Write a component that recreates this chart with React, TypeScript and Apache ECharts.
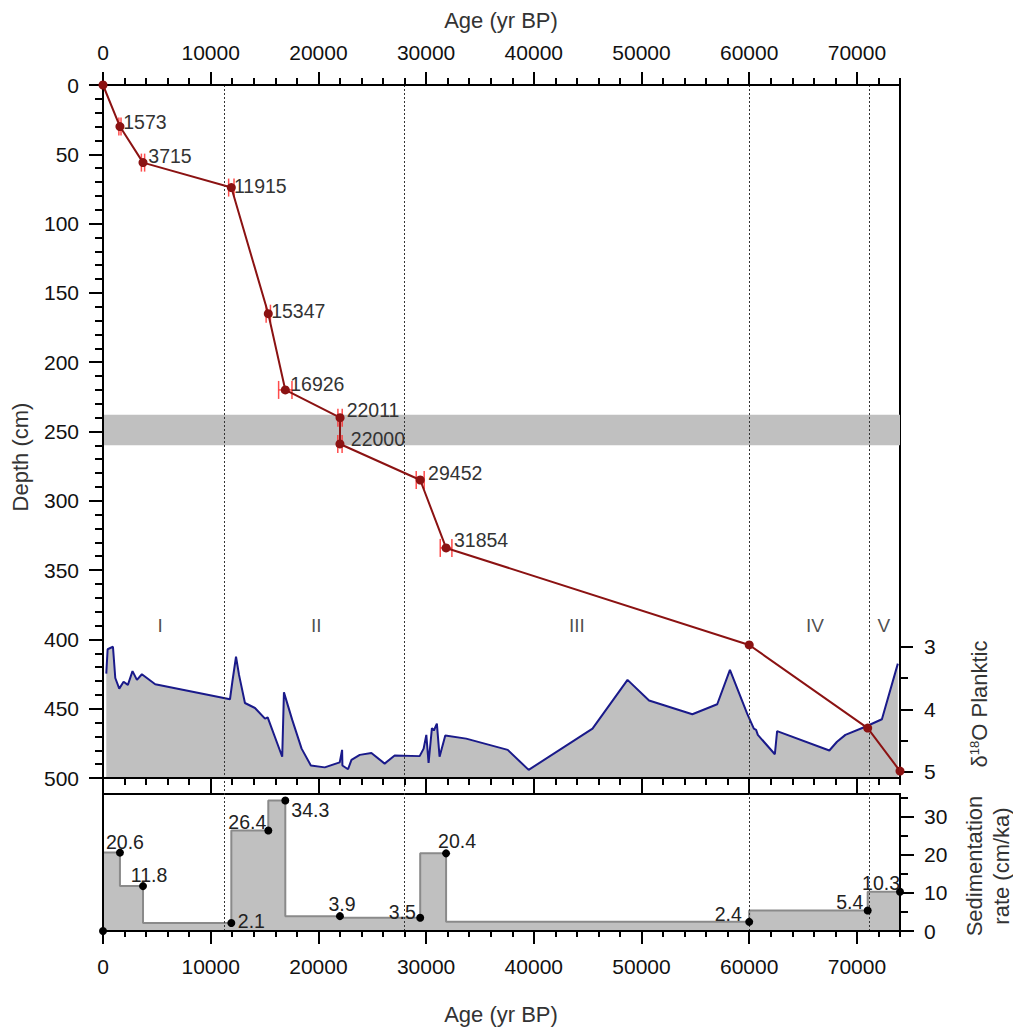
import React, { useEffect, useRef } from 'react';
import * as echarts from 'echarts';

const FONT = '"Liberation Sans", Arial, Helvetica, sans-serif';

// ---- Age-depth model (dated levels) ----
const dateAges = [0, 1573, 3715, 11915, 15347, 16926, 22011, 22000, 29452, 31854, 60000, 71000, 74000];
const dateDepths = [0, 30, 56, 74, 165, 220, 240, 259, 285, 334, 404, 464, 495];
const dateLabels = ['', '1573', '3715', '11915', '15347', '16926', '22011', '22000', '29452', '31854', '', '', ''];
const dateErrors = [0, 100, 150, 250, 200, 620, 200, 200, 370, 540, 0, 0, 0];

// ---- Planktic d18O record ----
const d18oAges = [305, 430, 925, 1140, 1510, 1910, 2310, 2740, 3150, 3610, 4850, 11790, 12010, 12350, 12630, 13180, 14110, 15040, 15290, 16640, 16800, 17570, 18440, 19300, 20590, 21980, 22200, 22230, 22750, 23070, 23840, 24920, 26150, 27080, 29400, 29770, 30020, 30230, 30540, 30720, 31000, 31250, 31780, 33720, 37580, 39520, 45450, 48700, 50700, 54720, 57030, 58210, 59810, 60430, 60640, 60800, 62380, 62590, 67440, 68150, 68930, 70780, 72320, 73800];
const d18oValues = [3.43, 3.04, 3.0, 3.5, 3.67, 3.56, 3.61, 3.39, 3.53, 3.44, 3.6, 3.84, 3.56, 3.16, 3.45, 3.9, 3.98, 4.15, 4.13, 4.76, 3.73, 4.17, 4.63, 4.9, 4.93, 4.85, 4.65, 4.9, 4.96, 4.81, 4.73, 4.7, 4.87, 4.74, 4.75, 4.63, 4.41, 4.86, 4.3, 4.34, 4.23, 4.76, 4.42, 4.47, 4.65, 4.97, 4.31, 3.53, 3.86, 4.08, 3.92, 3.37, 4.07, 4.31, 4.33, 4.41, 4.72, 4.35, 4.66, 4.52, 4.41, 4.28, 4.16, 3.27];

// ---- Sedimentation rate ----
const sedAges = [0, 1573, 3715, 11915, 15347, 16926, 22000, 29452, 31854, 60000, 71000, 74000];
const sedRates = [0, 20.6, 11.8, 2.1, 26.4, 34.3, 3.9, 3.5, 20.4, 2.4, 5.4, 10.3];

// ---- Zones ----
const zoneBounds = [11300, 28000, 60000, 71100];
const zoneNames = ['I', 'II', 'III', 'IV', 'V'];
const zoneLabelAges = [5300, 19800, 44000, 66100, 72500];
const zoneLabelDepth = 390;
const bandDepths = [238, 260];

// ---- Axes ----
const AGE_MAX = 74000;
const ageTicks = [0, 10000, 20000, 30000, 40000, 50000, 60000, 70000];
const depthMax = 500;
const d18oTicks = [3, 4, 5];
const d18oMinorTicks = [3.5, 4.5];
const sedTicks = [0, 10, 20, 30];
const sedMinorTicks = [5, 15, 25, 35];

// label offsets (style only)
const dateLabelOffsets = [[0, 0], [25, -5], [27, -7], [29, -2], [30, -3], [32, -6], [33, -8], [38, -5], [35, -7], [35, -8], [0, 0], [0, 0], [0, 0]];
const sedLabelOffsets = [[0, 0], [5, -11], [6, -11], [20, -2], [-21, -9], [25, 10], [2, -12], [-18, -6], [11, -12], [-21, -8], [-18, -8], [-19, -9]];

const BLACK = '#000';
const lineSt = { color: BLACK, width: 2 };
const plain = (v: number) => String(v);
const tickLabel = { color: '#111', fontSize: 21, fontFamily: FONT, formatter: plain };

function xAxisDef(grid: number, position: string, opts: any) {
  return {
    type: 'value', gridIndex: grid, position, min: 0, max: AGE_MAX, z: 5,
    splitLine: { show: false },
    axisLine: { show: opts.line ?? false, onZero: false, lineStyle: lineSt },
    axisTick: opts.major
      ? { show: true, inside: false, length: opts.len, customValues: ageTicks, lineStyle: lineSt }
      : { show: true, inside: false, length: opts.len, lineStyle: lineSt },
    axisLabel: opts.labels
      ? { show: true, customValues: ageTicks, margin: opts.margin, ...tickLabel }
      : { show: false },
    interval: opts.major ? 10000 : 2000,
  };
}

function buildOption() {
  return {
    animation: false,
    backgroundColor: '#fff',
    textStyle: { fontFamily: FONT },
    grid: [
      { left: 103, top: 85, width: 797, height: 693, show: true, borderColor: BLACK, borderWidth: 2, backgroundColor: 'transparent' },
      { left: 103, top: 794, width: 797, height: 137, show: true, borderColor: BLACK, borderWidth: 2, backgroundColor: 'transparent' },
      { left: 103, top: 640.5, width: 797, height: 137.5 },
      { left: 103, top: 85, width: 797, height: 846 },
    ],
    xAxis: [
      xAxisDef(0, 'top', { major: true, line: true, len: 13, labels: true, margin: 22 }),
      xAxisDef(0, 'top', { major: false, len: 7 }),
      xAxisDef(0, 'bottom', { major: true, line: true, len: 16 }),
      xAxisDef(0, 'bottom', { major: false, len: 7 }),
      xAxisDef(1, 'bottom', { major: true, line: true, len: 13, labels: true, margin: 25 }),
      xAxisDef(1, 'bottom', { major: false, len: 6 }),
      { type: 'value', gridIndex: 2, min: 0, max: AGE_MAX, show: false },
      { type: 'value', gridIndex: 3, min: 0, max: AGE_MAX, show: false },
    ],
    yAxis: [
      {
        type: 'value', gridIndex: 0, position: 'left', inverse: true, min: 0, max: depthMax, interval: 50, z: 5,
        splitLine: { show: false },
        axisLine: { show: true, onZero: false, lineStyle: lineSt },
        axisTick: { show: true, length: 14, lineStyle: lineSt },
        minorTick: { show: true, splitNumber: 5, length: 8, lineStyle: lineSt },
        minorSplitLine: { show: false },
        axisLabel: { show: true, margin: 24, ...tickLabel },
      },
      {
        type: 'value', gridIndex: 1, position: 'left', min: 0, max: 36, z: 5,
        splitLine: { show: false },
        axisLine: { show: true, onZero: false, lineStyle: lineSt },
        axisTick: { show: false }, axisLabel: { show: false },
      },
      {
        type: 'value', gridIndex: 1, position: 'right', min: 0, max: 36, interval: 10, z: 5,
        splitLine: { show: false },
        axisLine: { show: true, onZero: false, lineStyle: lineSt },
        axisTick: { show: true, length: 14, customValues: sedTicks, lineStyle: lineSt },
        axisLabel: { show: true, margin: 24, customValues: sedTicks, ...tickLabel },
      },
      {
        type: 'value', gridIndex: 1, position: 'right', min: 0, max: 36, interval: 5, z: 5,
        splitLine: { show: false },
        axisLine: { show: false, onZero: false },
        axisTick: { show: true, length: 8, customValues: sedMinorTicks, lineStyle: lineSt },
        axisLabel: { show: false },
      },
      {
        type: 'value', gridIndex: 2, position: 'right', inverse: true, min: 2.9, max: 5.1, interval: 1, z: 5,
        splitLine: { show: false },
        axisLine: { show: true, onZero: false, lineStyle: lineSt },
        axisTick: { show: true, length: 13, customValues: d18oTicks, lineStyle: lineSt },
        axisLabel: { show: true, margin: 24, customValues: d18oTicks, ...tickLabel },
      },
      {
        type: 'value', gridIndex: 2, position: 'right', inverse: true, min: 2.9, max: 5.1, interval: 0.5, z: 5,
        splitLine: { show: false },
        axisLine: { show: false, onZero: false },
        axisTick: { show: true, length: 8, customValues: d18oMinorTicks, lineStyle: lineSt },
        axisLabel: { show: false },
      },
      { type: 'value', gridIndex: 3, min: 0, max: 1, show: false },
    ],
    graphic: [
      { type: 'text', x: 501, y: 20, style: { text: 'Age (yr BP)', fontSize: 22, fontFamily: FONT, fill: '#333', align: 'center', verticalAlign: 'middle' } },
      { type: 'text', x: 501, y: 1014, style: { text: 'Age (yr BP)', fontSize: 22, fontFamily: FONT, fill: '#333', align: 'center', verticalAlign: 'middle' } },
      { type: 'text', x: 20, y: 457, rotation: Math.PI / 2, style: { text: 'Depth (cm)', fontSize: 22, fontFamily: FONT, fill: '#333', align: 'center', verticalAlign: 'middle' } },
      {
        type: 'text', x: 979, y: 704, rotation: Math.PI / 2,
        style: {
          text: '{a|δ}{b|18}{a|O Planktic}', fontFamily: FONT, fill: '#333', align: 'center', verticalAlign: 'middle',
          rich: { a: { fontSize: 22, fontFamily: FONT, fill: '#333' }, b: { fontSize: 13, fontFamily: FONT, fill: '#333', padding: [0, 0, 9, 0] } },
        },
      },
      { type: 'text', x: 988, y: 866, rotation: Math.PI / 2, style: { text: 'Sedimentation\nrate (cm/ka)', fontSize: 22, lineHeight: 27, fontFamily: FONT, fill: '#333', align: 'center', verticalAlign: 'middle' } },
    ],
    series: [
      // zone boundary dotted lines spanning both panels
      {
        type: 'line', xAxisIndex: 7, yAxisIndex: 6, data: [], z: 4, silent: true,
        markLine: {
          silent: true, symbol: ['none', 'none'], label: { show: false },
          lineStyle: { type: [2, 2], color: '#333', width: 1 },
          data: zoneBounds.map((v) => ({ xAxis: v })),
        },
      },
      // d18O record
      {
        type: 'line', xAxisIndex: 6, yAxisIndex: 4, z: 2, symbol: 'none',
        data: d18oAges.map((a, i) => [a, d18oValues[i]]),
        lineStyle: { color: '#1a1a8a', width: 2 },
        areaStyle: { color: '#c0c0c0', opacity: 1, origin: 'end' },
      },
      // zone labels
      {
        type: 'scatter', xAxisIndex: 0, yAxisIndex: 0, z: 3, symbolSize: 1, itemStyle: { color: 'rgba(0,0,0,0)' },
        data: zoneNames.map((n, i) => ({ name: n, value: [zoneLabelAges[i], zoneLabelDepth] })),
        label: { show: true, position: 'inside', formatter: '{b}', fontSize: 19, fontFamily: FONT, color: '#222', textBorderWidth: 0 },
      },
      // age-depth line
      {
        type: 'line', xAxisIndex: 0, yAxisIndex: 0, z: 7, symbol: 'circle', symbolSize: 9,
        itemStyle: { color: '#8b1212' },
        lineStyle: { color: '#8b1212', width: 2 },
        data: dateAges.map((a, i) => ({
          value: [a, dateDepths[i]],
          label: {
            show: dateLabels[i] !== '', position: 'inside', formatter: dateLabels[i],
            offset: dateLabelOffsets[i], fontSize: 19.5, fontFamily: FONT, color: '#333', textBorderWidth: 0,
          },
        })),
        markArea: {
          silent: true, itemStyle: { color: '#c0c0c0', opacity: 1 },
          data: [[{ yAxis: bandDepths[0] }, { yAxis: bandDepths[1] }]],
        },
      },
      // error bars
      {
        type: 'custom', xAxisIndex: 0, yAxisIndex: 0, z: 6,
        data: dateAges.map((a, i) => [a, dateDepths[i], dateErrors[i]]).filter((d) => d[2] > 0),
        encode: { x: 0, y: 1 },
        renderItem: (params: any, api: any) => {
          const age = api.value(0), depth = api.value(1), err = api.value(2);
          const p1 = api.coord([age - err, depth]);
          const p2 = api.coord([age + err, depth]);
          const h = 9;
          const st = { stroke: 'rgba(255,45,45,0.85)', lineWidth: 1.5 };
          return {
            type: 'group',
            children: [
              { type: 'line', shape: { x1: p1[0], y1: p1[1], x2: p2[0], y2: p2[1] }, style: st },
              { type: 'line', shape: { x1: p1[0], y1: p1[1] - h, x2: p1[0], y2: p1[1] + h }, style: st },
              { type: 'line', shape: { x1: p2[0], y1: p2[1] - h, x2: p2[0], y2: p2[1] + h }, style: st },
            ],
          };
        },
      },
      // sedimentation rate step area
      {
        type: 'line', xAxisIndex: 4, yAxisIndex: 1, z: 2, step: 'start', symbol: 'none',
        data: sedAges.map((a, i) => [a, sedRates[i]]),
        lineStyle: { color: '#8a8a8a', width: 2 },
        areaStyle: { color: '#c0c0c0', opacity: 1 },
      },
      // sedimentation rate points
      {
        type: 'scatter', xAxisIndex: 4, yAxisIndex: 1, z: 7, symbolSize: 8,
        itemStyle: { color: '#000', opacity: 1 },
        data: sedAges.map((a, i) => ({
          value: [a, sedRates[i]],
          label: {
            show: i > 0, position: 'inside', formatter: String(sedRates[i]),
            offset: sedLabelOffsets[i], fontSize: 19.5, fontFamily: FONT, color: '#222', opacity: 1, textBorderWidth: 0,
          },
        })),
      },
    ],
  };
}

export default function App() {
  const ref = useRef<HTMLDivElement>(null);
  useEffect(() => {
    const chart = echarts.init(ref.current!, null, { renderer: 'svg' });
    chart.setOption(buildOption() as any);
    return () => chart.dispose();
  }, []);
  return <div ref={ref} style={{ position: 'fixed', left: 0, top: 0, width: 1013, height: 1028, background: '#fff' }} />;
}
